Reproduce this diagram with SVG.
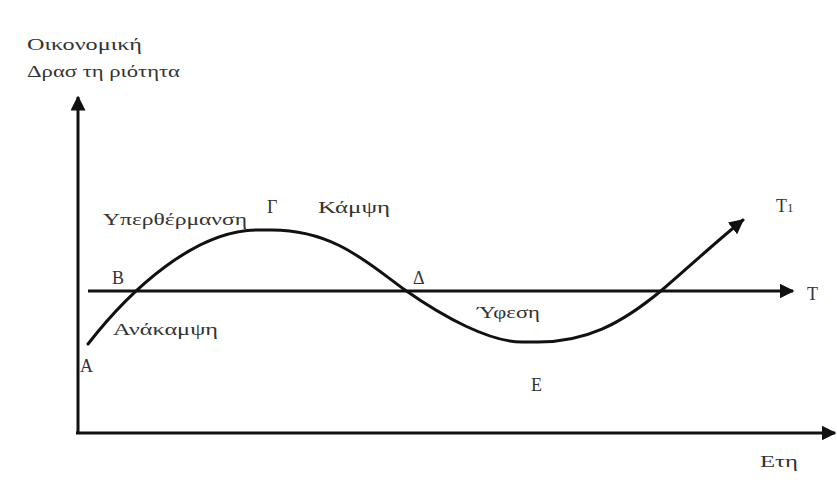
<svg xmlns="http://www.w3.org/2000/svg" width="837" height="487" viewBox="0 0 837 487">
<style>
.t{font-family:"Liberation Serif","DejaVu Serif",serif;font-size:16px;fill:#333}
.l{font-family:"Liberation Serif","DejaVu Serif",serif;font-size:18px;fill:#333}
.ax{stroke:#111;stroke-width:3;fill:none}
.cv{stroke:#111;stroke-width:3;fill:none;stroke-linecap:round}
</style>
<defs>
<marker id="ah" viewBox="0 0 10 10" refX="9" refY="5" markerWidth="5" markerHeight="5" markerUnits="strokeWidth" orient="auto">
<path d="M0,0 L10,5 L0,10 z" fill="#111"/>
</marker>
</defs>
<rect width="837" height="487" fill="#fff"/>
<g id="connectors">
<line class="ax" x1="78" y1="434" x2="78" y2="97" marker-end="url(#ah)"/>
<line class="ax" x1="76" y1="433" x2="835" y2="433" marker-end="url(#ah)"/>
<line class="ax" x1="88" y1="291" x2="793" y2="291" marker-end="url(#ah)"/>
<path class="cv" d="M88,344 C130,290 195,230 258,230 L272,230 C335,230 370,265 405,290 C445,318 490,342 522,342 L538,342 C585,342 620,325 662,290 C690,266 718,240 743,220" marker-end="url(#ah)"/>
</g>
<g id="yaxis-label">
<text class="t" x="27" y="50" textLength="115" lengthAdjust="spacingAndGlyphs">Οικονομική</text>
<text class="t" x="27" y="77" textLength="153" lengthAdjust="spacingAndGlyphs">Δρασ τη ριότητα</text>
</g>
<g id="node-A"><text class="l" x="80" y="372">Α</text></g>
<g id="node-B"><text class="l" x="112" y="284">Β</text></g>
<g id="node-G"><text class="l" x="267" y="213">Γ</text></g>
<g id="node-D"><text class="l" x="413" y="284">Δ</text></g>
<g id="node-E"><text class="l" x="531" y="391">Ε</text></g>
<g id="label-ypertherm"><text class="t" x="103" y="225" textLength="144" lengthAdjust="spacingAndGlyphs">Υπερθέρμανση</text></g>
<g id="label-kampsi"><text class="t" x="318" y="213" textLength="72" lengthAdjust="spacingAndGlyphs">Κάμψη</text></g>
<g id="label-anakampsi"><text class="t" x="113" y="335" textLength="105" lengthAdjust="spacingAndGlyphs">Ανάκαμψη</text></g>
<g id="label-yfesi"><text class="t" x="477" y="318" textLength="63" lengthAdjust="spacingAndGlyphs">Ύφεση</text></g>
<g id="label-T1"><text class="l" x="776" y="212">Τ<tspan font-size="13">1</tspan></text></g>
<g id="label-T"><text class="l" x="807" y="300">Τ</text></g>
<g id="label-eti"><text class="t" x="760" y="467" textLength="38" lengthAdjust="spacingAndGlyphs">Ετη</text></g>
</svg>
